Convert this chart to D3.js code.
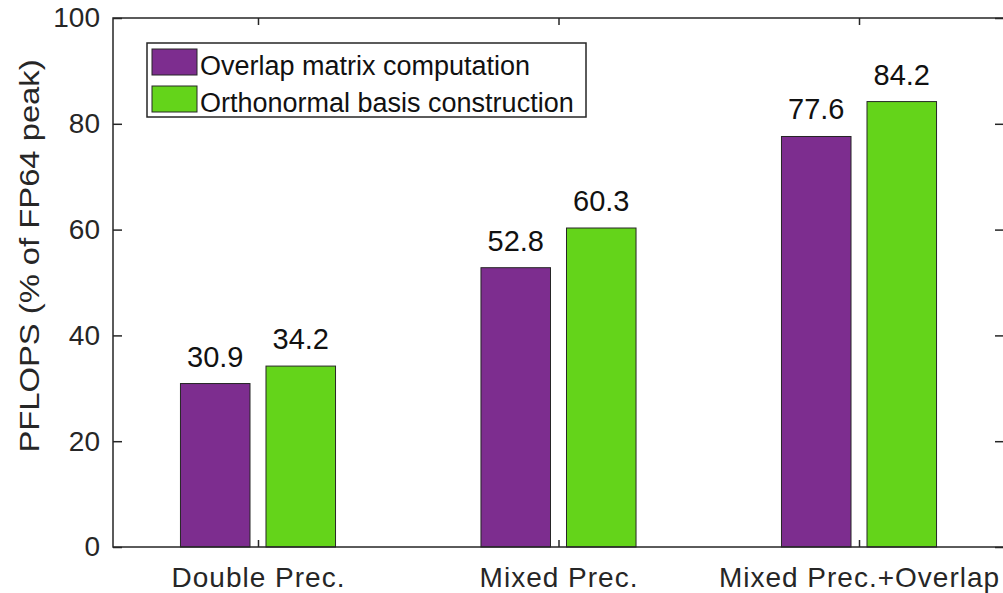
<!DOCTYPE html>
<html>
<head>
<meta charset="utf-8">
<script src="https://cdn.jsdelivr.net/npm/d3@7"></script>
<style>
  html, body { margin: 0; padding: 0; background: #fff; }
  svg { display: block; font-family: "Liberation Sans", Arial, sans-serif; }
</style>
</head>
<body>
<svg id="chart" width="1003" height="593"></svg>
<script>
// Performance of the two kernels under three precision settings
const categories = ["Double Prec.", "Mixed Prec.", "Mixed Prec.+Overlap"];
const seriesNames = ["Overlap matrix computation", "Orthonormal basis construction"];
const overlapValues = [30.9, 52.8, 77.6];
const orthoValues = [34.2, 60.3, 84.2];
const yTicks = [0, 20, 40, 60, 80, 100];
const colors = ["#7D2D8F", "#64D41A"];

const svg = d3.select("#chart");
const margin = { left: 113, top: 18 };
const plotW = 891, plotH = 529;
const ink = "#262626";
const fontFam = "Liberation Sans, Arial, sans-serif";

const g = svg.append("g").attr("transform", `translate(${margin.left},${margin.top})`);

// categorical positions on a continuous index axis (groups at 0, 1, 2)
const x = d3.scaleLinear().domain([-0.4825, 2.4825]).range([0, plotW]);
const step = x(1) - x(0);
const x1 = d3.scaleBand().domain(seriesNames)
  .range([-0.258 * step, 0.258 * step]).paddingInner(0.187).paddingOuter(0);
const y = d3.scaleLinear().domain([0, 100]).range([plotH, 0]);

// bars
const rows = categories.map((c, i) => ({ i, vals: [overlapValues[i], orthoValues[i]] }));
const grp = g.selectAll(".grp").data(rows).join("g")
  .attr("transform", d => `translate(${x(d.i)},0)`);

grp.selectAll("rect").data(d => d.vals.map((v, j) => ({ v, j }))).join("rect")
  .attr("x", d => x1(seriesNames[d.j]))
  .attr("width", x1.bandwidth())
  .attr("y", d => y(d.v))
  .attr("height", d => y(0) - y(d.v))
  .attr("fill", d => colors[d.j])
  .attr("stroke", ink).attr("stroke-width", 1);

grp.selectAll("text.val").data(d => d.vals.map((v, j) => ({ v, j }))).join("text")
  .attr("class", "val")
  .attr("x", d => x1(seriesNames[d.j]) + x1.bandwidth() / 2)
  .attr("y", d => y(d.v) - 17)
  .attr("text-anchor", "middle")
  .attr("font-size", 29)
  .attr("fill", "#111")
  .text(d => d.v.toFixed(1));

// box
g.append("rect").attr("x", 0).attr("y", 0).attr("width", plotW).attr("height", plotH)
  .attr("fill", "none").attr("stroke", ink).attr("stroke-width", 1.5);

// y axis (left) with ticks drawn inward
const ya = g.append("g").call(d3.axisLeft(y).tickValues(yTicks).tickSize(-9).tickPadding(13).tickFormat(d3.format("d")));
ya.select(".domain").remove();
ya.selectAll("line").attr("stroke", ink).attr("stroke-width", 1.5);
ya.selectAll("text").attr("font-size", 28).attr("fill", ink).attr("font-family", fontFam);

// mirrored ticks on the right
const yr = g.append("g").attr("transform", `translate(${plotW},0)`)
  .call(d3.axisRight(y).tickValues(yTicks).tickSize(-9).tickFormat(""));
yr.select(".domain").remove();
yr.selectAll("line").attr("stroke", ink).attr("stroke-width", 1.5);

// x axis with inward ticks
const xa = g.append("g").attr("transform", `translate(0,${plotH})`)
  .call(d3.axisBottom(x).tickValues([0, 1, 2]).tickSize(-7).tickPadding(20).tickFormat(i => categories[i]));
xa.select(".domain").remove();
xa.selectAll("line").attr("stroke", ink).attr("stroke-width", 1.5);
xa.selectAll("text").attr("font-size", 28).attr("letter-spacing", 1).attr("fill", ink).attr("font-family", fontFam);

const xt = g.append("g").call(d3.axisTop(x).tickValues([0, 1, 2]).tickSize(-7).tickFormat(""));
xt.select(".domain").remove();
xt.selectAll("line").attr("stroke", ink).attr("stroke-width", 1.5);

// y label, slightly widened along its run
svg.append("text")
  .attr("transform", `translate(39,256) rotate(-90) scale(1.17,1)`)
  .attr("text-anchor", "middle")
  .attr("font-size", 28)
  .attr("fill", ink)
  .text("PFLOPS (% of FP64 peak)");

// legend
const leg = svg.append("g").attr("transform", "translate(147,43)");
leg.append("rect").attr("x", 0).attr("y", 0).attr("width", 439).attr("height", 74)
  .attr("fill", "#fff").attr("stroke", ink).attr("stroke-width", 1.5);
seriesNames.forEach((name, i) => {
  const row = leg.append("g").attr("transform", `translate(5,${6 + i * 37})`);
  row.append("rect").attr("x", 0).attr("y", 0).attr("width", 45).attr("height", 26)
    .attr("fill", colors[i]).attr("stroke", ink).attr("stroke-width", 1);
  row.append("text").attr("x", 48).attr("y", 26).attr("font-size", 27).attr("fill", "#111").text(name);
});
</script>
</body>
</html>
